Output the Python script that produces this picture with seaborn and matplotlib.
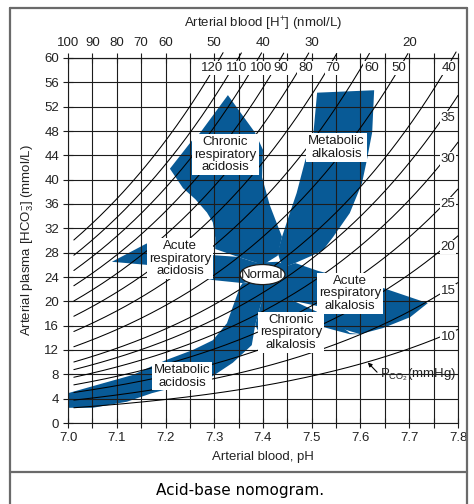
import numpy as np
import pandas as pd
import matplotlib
matplotlib.use("Agg")
import matplotlib.pyplot as plt
import seaborn as sns
from matplotlib.patches import Ellipse
from matplotlib.lines import Line2D

# ---- data -------------------------------------------------------------
# PCO2 isopleths (mmHg)
pco2_levels = [120, 110, 100, 90, 80, 70, 60, 50, 40, 35, 30, 25, 20, 15, 10]
pco2_top_labels = [120, 110, 100, 90, 80, 70, 60, 50, 40]
pco2_side_labels = [35, 30, 25, 20, 15, 10]

ph_ticks = [7.0, 7.05, 7.1, 7.15, 7.2, 7.25, 7.3, 7.35, 7.4, 7.45,
            7.5, 7.55, 7.6, 7.65, 7.7, 7.75, 7.8]
ph_labels = ["7.0", "", "7.1", "", "7.2", "", "7.3", "", "7.4", "",
             "7.5", "", "7.6", "", "7.7", "", "7.8"]
hco3_ticks = [0, 4, 8, 12, 16, 20, 24, 28, 32, 36, 40, 44, 48, 52, 56, 60]

# [H+] scale (nmol/L) printed along the top
h_ion_values = [100, 90, 80, 70, 60, 50, 40, 30, 20]
h_ion_ph = [7.0, 7.05, 7.1, 7.15, 7.2, 7.3, 7.4, 7.5, 7.7]

# 95% confidence bands (pH, HCO3-)
chronic_acid_ph = [7.328, 7.384, 7.400, 7.398, 7.414, 7.439, 7.430, 7.400, 7.349,
                   7.302, 7.302, 7.297, 7.285, 7.261, 7.236, 7.209, 7.254, 7.271]
chronic_acid_hco3 = [53.9, 47.7, 44.9, 40.4, 35.8, 30.6, 27.5, 26.0, 27.3,
                     28.6, 30.5, 33.0, 34.6, 36.8, 38.6, 41.8, 46.4, 47.7]

met_alk_ph = [7.511, 7.628, 7.624, 7.613, 7.603, 7.578, 7.544, 7.523, 7.503,
              7.466, 7.440, 7.430, 7.439, 7.455, 7.469, 7.486, 7.503]
met_alk_hco3 = [54.3, 54.7, 47.8, 43.2, 39.4, 34.5, 30.6, 28.4, 27.6,
                26.3, 25.5, 28.0, 30.6, 34.5, 37.8, 43.0, 47.3]

acute_acid_ph = [7.090, 7.161, 7.297, 7.349, 7.400, 7.400, 7.358, 7.297, 7.161]
acute_acid_hco3 = [26.5, 29.5, 27.6, 27.3, 26.0, 23.5, 23.0, 23.5, 26.0]

met_acid_ph = [7.000, 7.066, 7.133, 7.174, 7.203, 7.256, 7.297, 7.326, 7.338,
               7.353, 7.358, 7.400, 7.410, 7.398, 7.384, 7.377, 7.338, 7.291,
               7.172, 7.121, 7.051, 7.000]
met_acid_hco3 = [4.9, 6.4, 7.9, 9.4, 10.4, 12.0, 13.6, 16.4, 19.1,
                 22.4, 23.0, 23.0, 21.0, 20.2, 16.1, 12.8, 9.9, 7.4,
                 4.9, 3.5, 2.5, 2.5]

chronic_alk_ph = [7.410, 7.450, 7.462, 7.513, 7.537, 7.578, 7.599, 7.578,
                  7.545, 7.523, 7.476, 7.398, 7.394, 7.384, 7.398]
chronic_alk_hco3 = [23.5, 22.0, 20.1, 18.2, 17.3, 14.8, 14.6, 14.6,
                    15.3, 15.8, 12.0, 12.8, 14.5, 16.1, 20.2]

acute_alk_ph = [7.420, 7.466, 7.513, 7.646, 7.738, 7.702, 7.646, 7.599,
                7.558, 7.523, 7.513, 7.462, 7.430]
acute_alk_hco3 = [25.0, 26.3, 25.0, 22.2, 19.7, 17.4, 15.6, 14.6,
                  15.6, 17.5, 19.2, 20.1, 21.0]

normal_core_ph = [7.370, 7.430, 7.460, 7.470, 7.440, 7.400, 7.370, 7.365]
normal_core_hco3 = [26.3, 26.5, 25.5, 22.5, 20.8, 20.5, 22.5, 24.5]

normal_ph, normal_hco3 = 7.399, 24.4

# ---- style ------------------------------------------------------------
sns.set_theme(style="white")
plt.rcParams["font.family"] = ["Liberation Sans", "DejaVu Sans"]
plt.rcParams["mathtext.default"] = "regular"

BLUE = "#085a96"
FS = 9.5
INK = "#1c1c1c"

fig = plt.figure(figsize=(4.74, 5.04), dpi=100)
fig.patch.set_facecolor("white")
ax = fig.add_axes([68 / 474, 1 - 423 / 504, 390 / 474, 365 / 504])
ax.set_facecolor("white")


def hh_hco3(ph, pco2):
    """Henderson-Hasselbalch: HCO3- (mmol/L) for a given pH and PCO2."""
    return 0.0307 * pco2 * 10 ** (ph - 6.1)


# ---- bands ------------------------------------------------------------
for xs, ys in [(chronic_acid_ph, chronic_acid_hco3), (met_alk_ph, met_alk_hco3),
               (acute_acid_ph, acute_acid_hco3), (met_acid_ph, met_acid_hco3),
               (chronic_alk_ph, chronic_alk_hco3), (acute_alk_ph, acute_alk_hco3),
               (normal_core_ph, normal_core_hco3)]:
    ax.fill(xs, ys, color=BLUE, lw=0, zorder=1)

# ---- PCO2 isopleths -----------------------------------------------------
ph_grid = np.linspace(7.012, 7.8, 400)
rows = []
for p in pco2_levels:
    h = hh_hco3(ph_grid, p)
    keep = h <= 61.0
    rows.append(pd.DataFrame({"ph": ph_grid[keep], "hco3": h[keep], "pco2": p}))
curves = pd.concat(rows, ignore_index=True)
n_before = len(ax.lines)
sns.lineplot(data=curves, x="ph", y="hco3", units="pco2", estimator=None,
             color="black", lw=0.75, sort=False, legend=False, ax=ax, zorder=3)
for ln in ax.lines[n_before:]:
    ln.set_clip_on(False)

# ---- axes, grid, ticks ------------------------------------------------------
ax.set_xlim(7.0, 7.8)
ax.set_ylim(0, 60)
ax.set_xticks(ph_ticks, labels=ph_labels)
ax.set_yticks(hco3_ticks, labels=[str(v) for v in hco3_ticks])
ax.set_axisbelow(False)
ax.grid(True, color=INK, lw=0.8)
for s in ax.spines.values():
    s.set_color(INK)
    s.set_linewidth(0.8)
ax.tick_params(axis="both", direction="inout", length=7, width=0.8,
               color=INK, labelsize=FS, pad=3, labelcolor="#222222",
               bottom=True, left=True)
ax.set_xlabel("Arterial blood, pH", fontsize=FS, labelpad=5, color="#222222")
ax.set_ylabel(r"Arterial plasma [HCO$_3^{-}$] (mmol/L)", fontsize=FS,
              labelpad=6, color="#222222")

secax = ax.secondary_xaxis("top")
top_labels = []
for t in ph_ticks:
    lab = ""
    for hv, hp in zip(h_ion_values, h_ion_ph):
        if abs(hp - t) < 1e-6:
            lab = str(hv)
    top_labels.append(lab)
secax.set_xticks(ph_ticks, labels=top_labels)
secax.tick_params(direction="inout", length=7, width=0.8, color=INK,
                  labelsize=FS, pad=3, labelcolor="#222222")
secax.spines["top"].set_linewidth(0.8)
secax.set_xlabel(r"Arterial blood [H$^{+}$] (nmol/L)", fontsize=FS,
                 labelpad=7, color="#222222")

# ---- PCO2 labels -----------------------------------------------------------
box = dict(boxstyle="square,pad=0.08", fc="white", ec="none")
# small nudges (pixels) so neighbouring numbers do not collide
top_nudge = {120: -8, 110: -2, 100: 2, 90: 0, 80: 0, 70: -1, 60: 5, 50: -7, 40: -4}
side_nudge = {35: -4, 30: -1, 25: -2, 20: -1, 15: -1, 10: -2}
for p in pco2_top_labels:
    ph_end = 6.1 + np.log10(60.0 / (0.0307 * p))
    ax.annotate(str(p), xy=(ph_end, 58.35), xytext=(top_nudge[p], 0),
                textcoords="offset pixels", ha="center", va="center",
                fontsize=FS, color="#222222", bbox=box, zorder=5)
for p in pco2_side_labels:
    ax.annotate(str(p), xy=(7.7795, hh_hco3(7.775, p)), xytext=(0, side_nudge[p]),
                textcoords="offset pixels", ha="center", va="center",
                fontsize=FS, color="#222222", bbox=box, zorder=5)

ax.text(7.641, 8.0, r"P$_{CO_2}$(mmHg)", ha="left", va="center", fontsize=FS,
        color="#222222", zorder=5)
ax.annotate("", xy=(7.615, 9.95), xytext=(7.634, 8.35),
            arrowprops=dict(arrowstyle="-|>", color="black", lw=0.8,
                            mutation_scale=6, shrinkA=0, shrinkB=0), zorder=5)

# ---- band labels -----------------------------------------------------------
lab_box = dict(boxstyle="square,pad=0.15", fc="white", ec="none")
band_labels = [
    ("Chronic\nrespiratory\nacidosis", 7.323, 44.1),
    ("Metabolic\nalkalosis", 7.551, 45.3),
    ("Acute\nrespiratory\nacidosis", 7.230, 27.0),
    ("Acute\nrespiratory\nalkalosis", 7.579, 21.3),
    ("Chronic\nrespiratory\nalkalosis", 7.458, 14.9),
    ("Metabolic\nacidosis", 7.234, 7.7),
]
for txt, x, y in band_labels:
    ax.text(x, y, txt, ha="center", va="center", fontsize=FS, color="#1a1a1a",
            linespacing=1.08, bbox=lab_box, zorder=6)

ax.add_patch(Ellipse((normal_ph, normal_hco3), width=0.092, height=3.3,
                     fc="white", ec="#1a1a1a", lw=0.9, zorder=6))
ax.text(normal_ph, normal_hco3, "Normal", ha="center", va="center",
        fontsize=FS, color="#1a1a1a", zorder=7)

# ---- outer frame and caption -------------------------------------------------
frame_kw = dict(color="#6a6a6a", lw=1.6, transform=fig.transFigure)
fx0, fx1 = 10 / 474, 467 / 474
fy_top, fy_div = 1 - 8 / 504, 1 - 472 / 504
fig.add_artist(Line2D([fx0, fx1], [fy_top, fy_top], **frame_kw))
fig.add_artist(Line2D([fx0, fx0], [0, fy_top], **frame_kw))
fig.add_artist(Line2D([fx1, fx1], [0, fy_top], **frame_kw))
fig.add_artist(Line2D([fx0, fx1], [fy_div, fy_div], **frame_kw))
fig.text(240 / 474, 1 - 491 / 504, "Acid-base nomogram.", ha="center",
         va="center", fontsize=11, family="DejaVu Sans", color="black")

fig.savefig("out.png", dpi=100, facecolor="white")
